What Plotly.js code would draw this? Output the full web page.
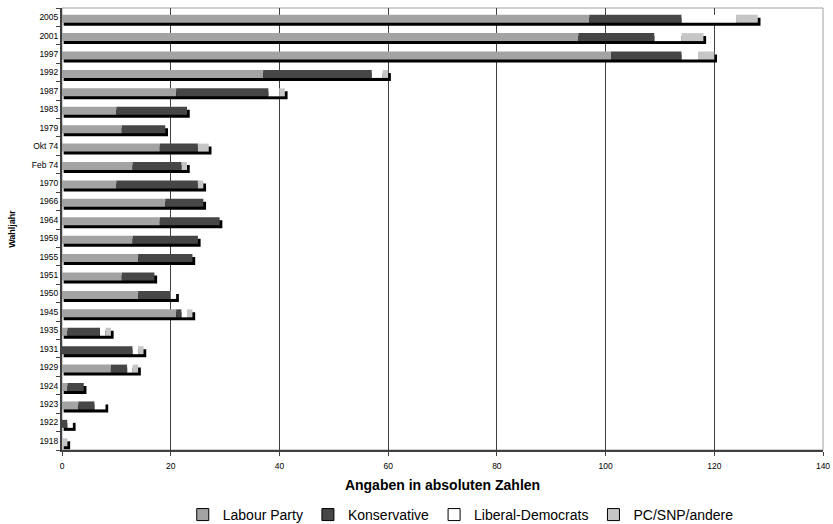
<!DOCTYPE html>
<html>
<head>
<meta charset="utf-8">
<script src="https://cdn.plot.ly/plotly-3.0.1.min.js"></script>
<style>
html,body{margin:0;padding:0;background:#fff;}
#chart{width:833px;height:524px;}
</style>
</head>
<body>
<div id="chart"></div>
<script>
// Categories (bottom to top)
var years = ["1918","1922","1923","1924","1929","1931","1935","1945","1950","1951","1955","1959","1964","1966","1970","Feb 74","Okt 74","1979","1983","1987","1992","1997","2001","2005"];
var labour       = [0, 0, 3, 1, 9, 0, 1, 21, 14, 11, 14, 13, 18, 19, 10, 13, 18, 11, 10, 21, 37, 101, 95, 97];
var konservative = [0, 1, 3, 3, 3, 13, 6, 1, 6, 6, 10, 12, 11, 7, 15, 9, 7, 8, 13, 17, 20, 13, 14, 17];
var libdem       = [0, 1, 2, 0, 1, 1, 1, 1, 1, 0, 0, 0, 0, 0, 0, 0, 0, 0, 0, 2, 2, 3, 5, 10];
var andere       = [1, 0, 0, 0, 1, 1, 1, 1, 0, 0, 0, 0, 0, 0, 1, 1, 2, 0, 0, 1, 1, 3, 4, 4];
var seriesNames  = ["Labour Party", "Konservative", "Liberal-Democrats", "PC/SNP/andere"];
var xTicks = [0, 20, 40, 60, 80, 100, 120, 140];

var colors = ["#a3a3a3", "#464646", "#ffffff", "#c6c6c6"];
var series = [labour, konservative, libdem, andere];

var FONT = "Liberation Sans, Arial, sans-serif";
var BW = 0.434, OFF = -0.297, SH = 0.163;

// cumulative bases
var bases = [];
var run = years.map(function(){return 0;});
series.forEach(function(s){
  bases.push(run.slice());
  run = run.map(function(v,i){return v + s[i];});
});
var totals = run;

var traces = [];
// shadow
traces.push({
  type: "bar", orientation: "h", y: years,
  x: totals.map(function(t){return t + 0.2;}),
  base: years.map(function(){return 0.3;}),
  width: BW, offset: OFF - SH,
  marker: {color: "#000000", line: {width: 0}},
  showlegend: false, hoverinfo: "skip"
});
series.forEach(function(s, k){
  traces.push({
    type: "bar", orientation: "h", y: years, x: s, base: bases[k],
    width: BW, offset: OFF, name: seriesNames[k],
    marker: {color: colors[k], line: {width: 0}},
    showlegend: false
  });
});
// legend entries
series.forEach(function(s, k){
  traces.push({
    type: "bar", orientation: "h", x: [null], y: [null], name: seriesNames[k],
    marker: {color: colors[k], line: {color: "#000000", width: 1}},
    showlegend: true, hoverinfo: "skip"
  });
});

var layout = {
  width: 833, height: 524,
  margin: {l: 62, r: 10, t: 8, b: 74, autoexpand: false},
  paper_bgcolor: "#ffffff", plot_bgcolor: "#ffffff",
  barmode: "overlay",
  font: {family: FONT, color: "#000000"},
  showlegend: true,
  legend: {
    orientation: "h", x: 0.524, xanchor: "center", y: -0.147, yanchor: "middle",
    font: {family: FONT, size: 14, color: "#000"}, traceorder: "normal",
    itemclick: false
  },
  xaxis: {
    range: [0, 140], tickvals: xTicks, ticktext: xTicks.map(String),
    showgrid: true, gridcolor: "#404040", gridwidth: 1,
    zeroline: false,
    showline: true, linecolor: "#404040", linewidth: 2,
    ticks: "outside", ticklen: 4, tickcolor: "#404040", tickwidth: 1,
    ticklabelstandoff: 3,
    tickfont: {family: FONT, size: 8.5, color: "#000"},
    title: {text: "<b>Angaben in absoluten Zahlen</b>", font: {family: FONT, size: 14, color: "#000"}, standoff: 10},
    automargin: false,
    fixedrange: true
  },
  yaxis: {
    type: "category", categoryorder: "array", categoryarray: years,
    range: [-0.5, 23.5],
    showgrid: false, zeroline: false,
    showline: true, linecolor: "#404040", linewidth: 2,
    ticks: "outside", ticklen: 4, tickcolor: "#404040", tickwidth: 1,
    tickson: "boundaries",
    tickfont: {family: FONT, size: 8.5, color: "#000"},
    title: {text: "<b>Wahljahr</b>", font: {family: FONT, size: 9, color: "#000"}, standoff: 15},
    automargin: false,
    fixedrange: true
  },
  shapes: [{
    type: "rect", xref: "paper", yref: "paper", x0: 0, x1: 1, y0: 0, y1: 1,
    line: {color: "#a0a0a0", width: 1}, fillcolor: "rgba(0,0,0,0)", layer: "below"
  }]
};

Plotly.newPlot("chart", traces, layout, {displayModeBar: false, staticPlot: true});
</script>
</body>
</html>
